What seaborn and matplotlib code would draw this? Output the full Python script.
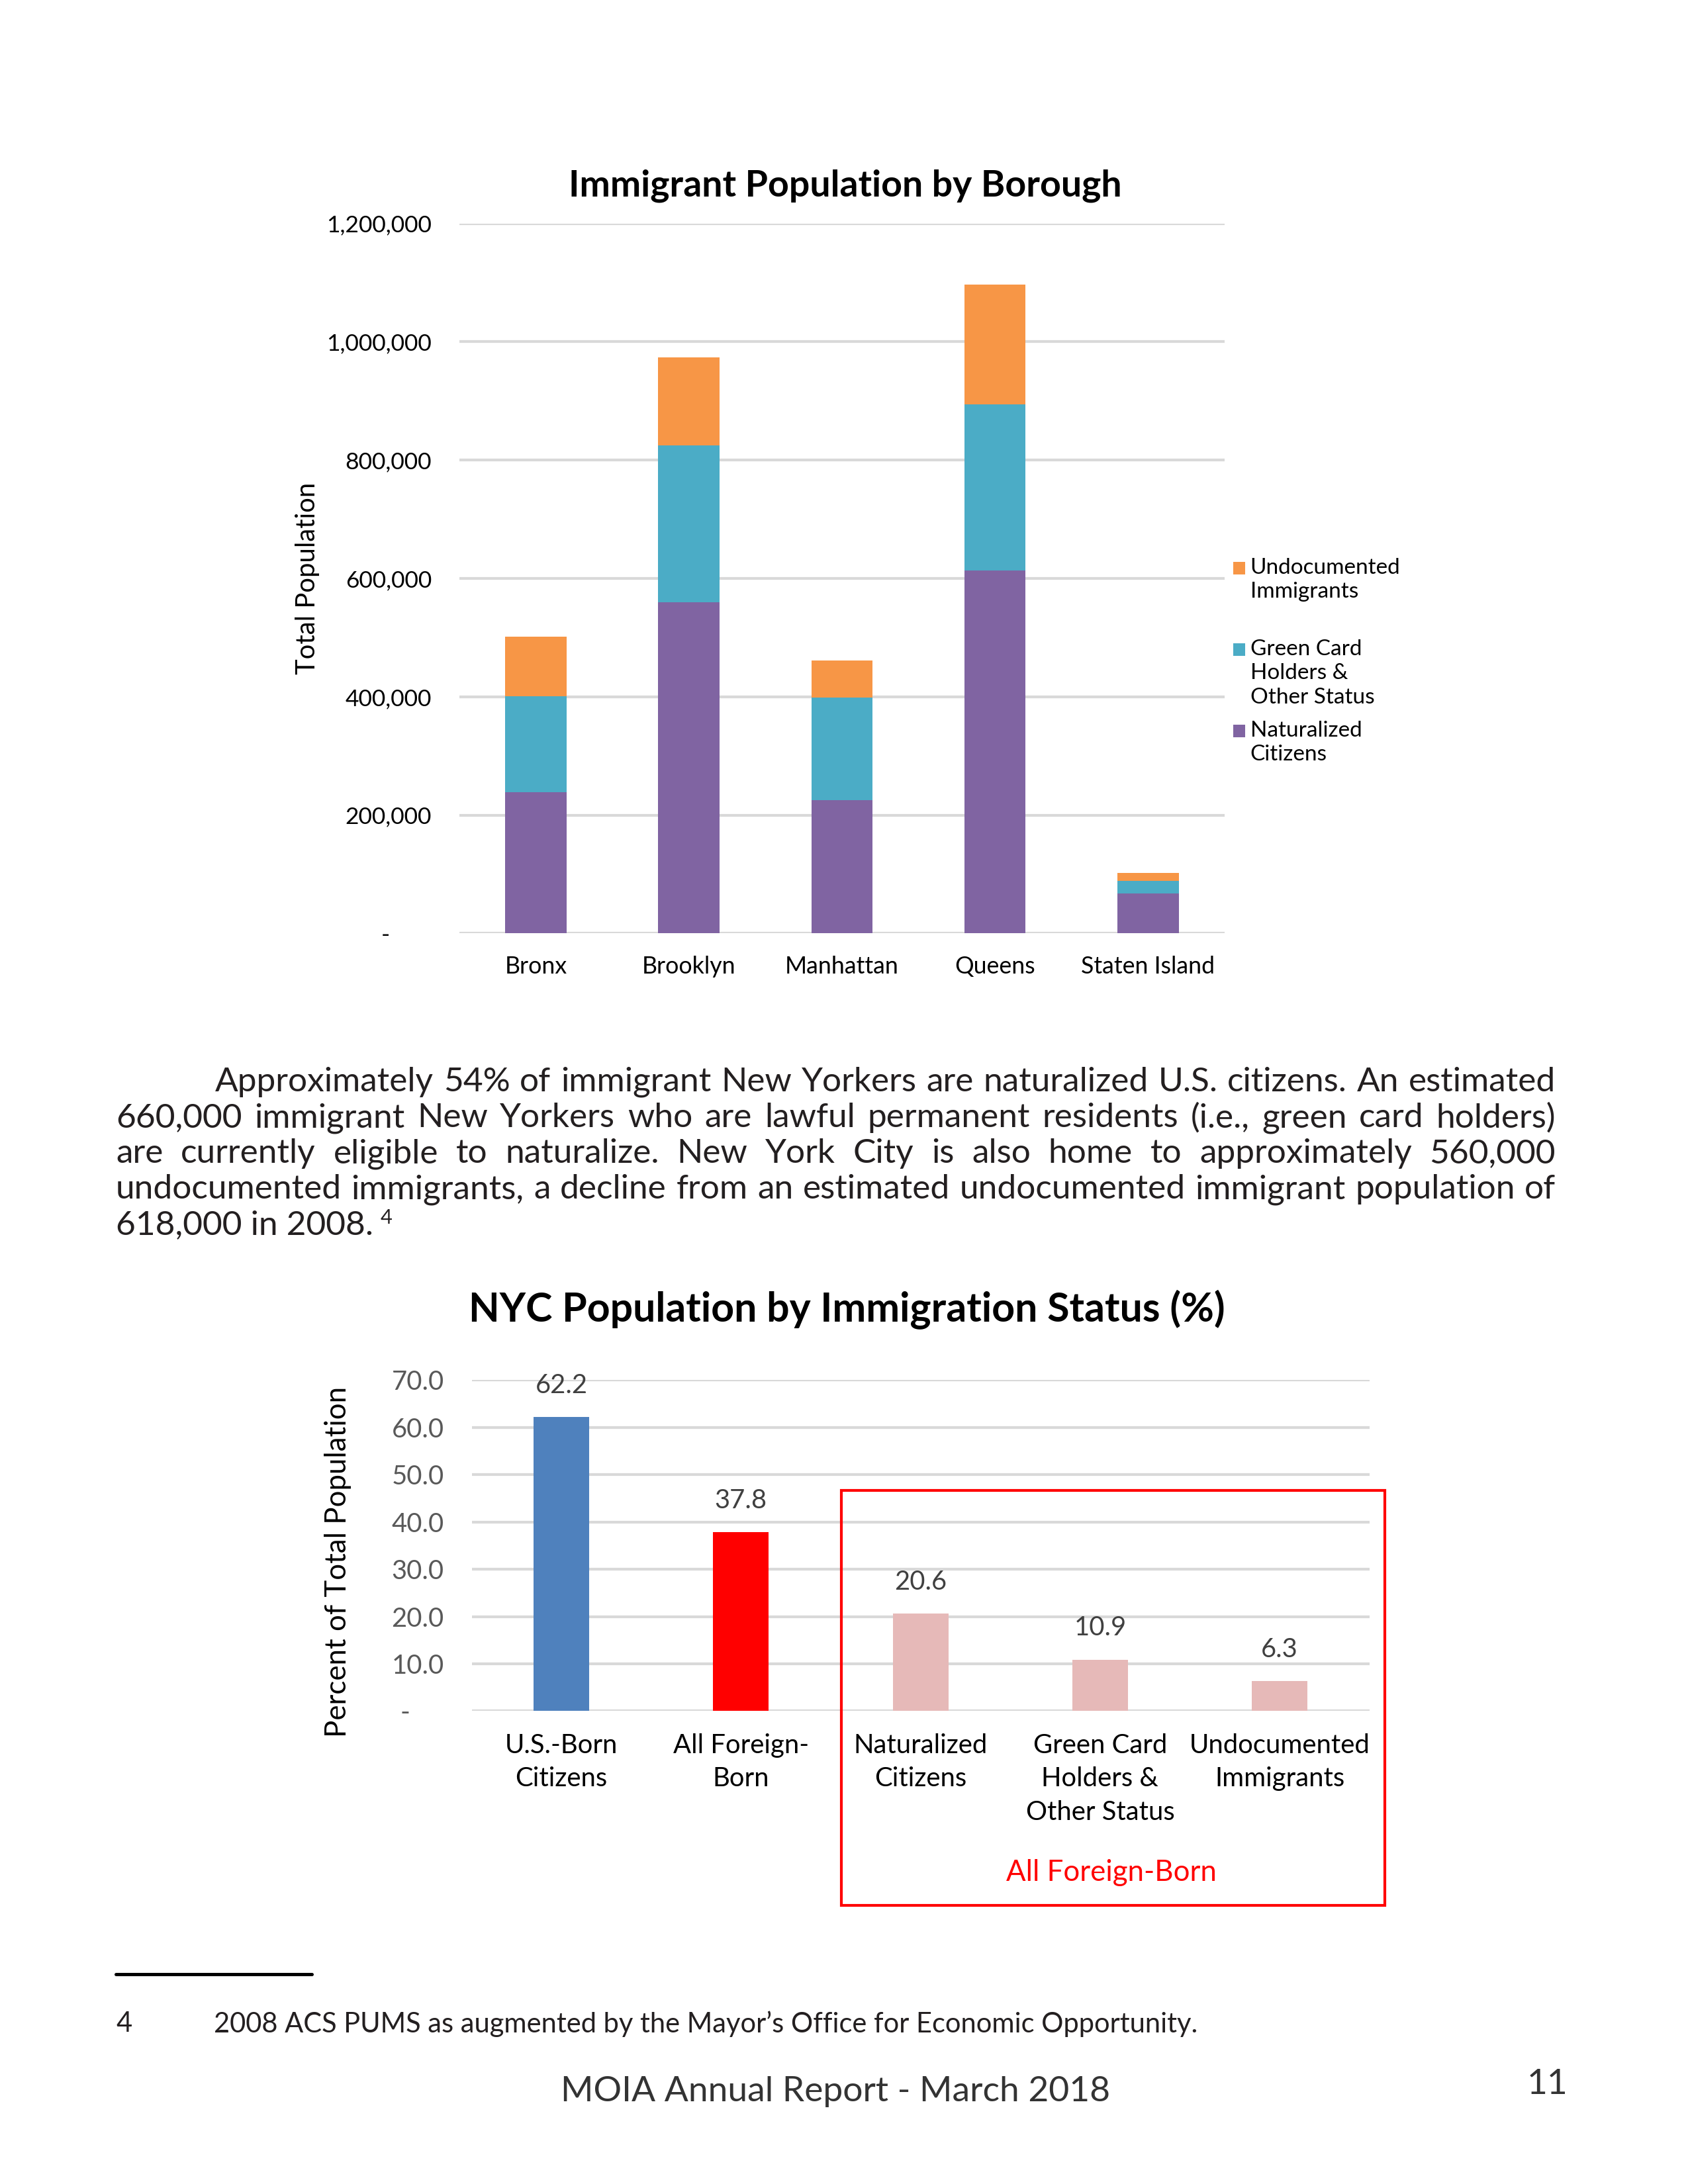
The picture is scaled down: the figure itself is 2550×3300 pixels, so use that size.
import matplotlib
matplotlib.use("Agg")
import matplotlib.pyplot as plt
import seaborn as sns
from matplotlib.patches import Rectangle
from matplotlib.lines import Line2D

# ---------------- data ----------------
boroughs = ["Bronx", "Brooklyn", "Manhattan", "Queens", "Staten Island"]
naturalized = [239000, 560000, 225000, 613000, 68000]
green_card = [162000, 265000, 174000, 281000, 21000]
undocumented = [100000, 148000, 62000, 202000, 13000]
legend_labels = ["Undocumented\nImmigrants", "Green Card\nHolders &\nOther Status", "Naturalized\nCitizens"]
pop_ticks = [0, 200000, 400000, 600000, 800000, 1000000, 1200000]
pop_tick_labels = ["-       ", "200,000", "400,000", "600,000", "800,000", "1,000,000", "1,200,000"]

status_cats = ["U.S.-Born\nCitizens", "All Foreign-\nBorn", "Naturalized\nCitizens",
               "Green Card\nHolders &\nOther Status", "Undocumented\nImmigrants"]
status_pct = [62.2, 37.8, 20.6, 10.9, 6.3]
pct_ticks = [0, 10, 20, 30, 40, 50, 60, 70]
pct_tick_labels = ["-     ", "10.0", "20.0", "30.0", "40.0", "50.0", "60.0", "70.0"]

paragraph_lines = [
    "Approximately 54% of immigrant New Yorkers are naturalized U.S. citizens. An estimated",
    "660,000 immigrant New Yorkers who are lawful permanent residents (i.e., green card holders)",
    "are currently eligible to naturalize. New York City is also home to approximately 560,000",
    "undocumented immigrants, a decline from an estimated undocumented immigrant population of",
    "618,000 in 2008.",
]
footnote_text = "2008 ACS PUMS as augmented by the Mayor\u2019s Office for Economic Opportunity."
footer_text = "MOIA Annual Report - March 2018"

# ---------------- style ----------------
sns.set_theme(style="white")
plt.rcParams["font.family"] = ["Lato", "DejaVu Sans"]

C_UND = "#F79646"
C_GRN = "#4BACC6"
C_NAT = "#8064A2"
status_colors = ["#4F81BD", "#FF0000", "#E6B9B8", "#E6B9B8", "#E6B9B8"]
GRID = "#D9D9D9"

W, H = 2550, 3300
fig = plt.figure(figsize=(8.5, 11), dpi=300)
fig.patch.set_facecolor("white")

def fx(px):  # reference layout units (1224 wide) -> fig fraction
    return px / 1224.0

def fy(py):
    return 1 - py / 1584.0

# ---------------- chart 1 ----------------
ax1 = fig.add_axes([fx(333), fy(677), fx(888) - fx(333), fy(162) - fy(677)])
tot_green = [n + g for n, g in zip(naturalized, green_card)]
tot_all = [t + u for t, u in zip(tot_green, undocumented)]
sns.barplot(x=boroughs, y=tot_all, color=C_UND, width=0.4, saturation=1,
            errorbar=None, linewidth=0, ax=ax1)
sns.barplot(x=boroughs, y=tot_green, color=C_GRN, width=0.4, saturation=1,
            errorbar=None, linewidth=0, ax=ax1)
sns.barplot(x=boroughs, y=naturalized, color=C_NAT, width=0.4, saturation=1,
            errorbar=None, linewidth=0, ax=ax1)
ax1.set_xlim(-0.5, 4.5)
ax1.set_ylim(0, 1200000)
ax1.set_yticks(pop_ticks)
ax1.set_yticklabels(pop_tick_labels)
ax1.set_axisbelow(True)
ax1.grid(axis="y", color=GRID, linewidth=1.0)
for s in ax1.spines.values():
    s.set_visible(False)
ax1.tick_params(axis="y", length=0, pad=10, labelsize=8.5, labelcolor="#000000")
ax1.tick_params(axis="x", length=0, pad=8, labelsize=8.6, labelcolor="#000000")
ax1.set_xlabel("")
ax1.set_ylabel("Total Population", fontsize=9.6, color="#000000")
ax1.yaxis.set_label_coords(-0.182, 0.5)
fig.text(fx(613), fy(135), "Immigrant Population by Borough", ha="center", va="center",
         fontsize=13.3, fontweight="bold", color="#000000")

# legend (manual, Excel-like)
leg_y = [412, 471, 530]
leg_cols = [C_UND, C_GRN, C_NAT]
for lab, yy, col in zip(legend_labels, leg_y, leg_cols):
    fig.patches.append(Rectangle((fx(894), fy(yy + 4.5)), fx(9), fy(yy - 4.5) - fy(yy + 4.5),
                                 transform=fig.transFigure, facecolor=col, edgecolor="none"))
    fig.text(fx(906.5), fy(yy - 7.5), lab, ha="left", va="top", fontsize=8.0,
             linespacing=1.28, color="#000000")

# ---------------- chart 2 ----------------
ax2 = fig.add_axes([fx(342), fy(1241), fx(993) - fx(342), fy(1001) - fy(1241)])
sns.barplot(x=status_cats, y=status_pct, hue=status_cats, palette=status_colors,
            width=0.31, saturation=1, errorbar=None, linewidth=0, legend=False, ax=ax2)
ax2.set_xlim(-0.5, 4.5)
ax2.set_ylim(0, 70)
ax2.set_yticks(pct_ticks)
ax2.set_yticklabels(pct_tick_labels)
ax2.set_axisbelow(True)
ax2.grid(axis="y", color=GRID, linewidth=1.0)
for s in ax2.spines.values():
    s.set_visible(False)
ax2.tick_params(axis="y", length=0, pad=10, labelsize=9.6, labelcolor="#595959")
ax2.tick_params(axis="x", length=0, pad=8, labelsize=9.6, labelcolor="#000000")
for lab in ax2.get_xticklabels():
    lab.set_linespacing(1.45)
ax2.set_xlabel("")
ax2.set_ylabel("Percent of Total Population", fontsize=10.5, color="#000000")
ax2.yaxis.set_label_coords(-0.134, 0.45)
for cont in ax2.containers:
    ax2.bar_label(cont, fmt="%.1f", padding=7, fontsize=9.6, color="#404040")
fig.text(fx(614), fy(950), "NYC Population by Immigration Status (%)", ha="center", va="center",
         fontsize=14.6, fontweight="bold", color="#000000")

# red box around foreign-born breakdown
fig.patches.append(Rectangle((fx(610), fy(1382)), fx(1004) - fx(610), fy(1081) - fy(1382),
                             transform=fig.transFigure, facecolor="none",
                             edgecolor="#FF0000", linewidth=1.0))
fig.text(fx(806), fy(1358), "All Foreign-Born", ha="center", va="center", fontsize=10.5,
         color="#FF0000")

# ---------------- paragraph (justified) ----------------
renderer = fig.canvas.get_renderer()
TXT = "#231F20"
x_left, x_right, x_indent = fx(84), fx(1128), fx(156)
line_y = [786, 812, 838, 864, 890]

def width_of(s, fs, **kw):
    t = fig.text(0, 0, s, fontsize=fs, **kw)
    w = t.get_window_extent(renderer).width / W
    t.remove()
    return w

fs0 = 12.0
ratios = []
for i, ln in enumerate(paragraph_lines[:-1]):
    x0 = x_indent if i == 0 else x_left
    ratios.append((x_right - x0) / width_of(ln, fs0))
PFS = min(12.6, fs0 * min(ratios) * 0.995)

for i, ln in enumerate(paragraph_lines):
    x0 = x_indent if i == 0 else x_left
    yb = fy(line_y[i] + 5.5)
    if i == len(paragraph_lines) - 1:
        t = fig.text(x0, yb, ln, fontsize=PFS, va="baseline", ha="left", color=TXT)
        wl = t.get_window_extent(renderer).width / W
        fig.text(x0 + wl + fx(5), yb + 0.005, "4", fontsize=PFS * 0.6, va="baseline",
                 ha="left", color=TXT)
        continue
    words = ln.split(" ")
    widths = [width_of(w, PFS) for w in words]
    gap = (x_right - x0 - sum(widths)) / (len(words) - 1)
    x = x0
    for w, wd in zip(words, widths):
        fig.text(x, yb, w, fontsize=PFS, va="baseline", ha="left", color=TXT)
        x += wd + gap

# ---------------- footnote & footer ----------------
fig.add_artist(Line2D([fx(84), fx(226)], [fy(1432), fy(1432)], transform=fig.transFigure,
                      color="#000000", linewidth=1.2))
fig.text(fx(84), fy(1468), "4", fontsize=10.0, va="center", ha="left", color=TXT)
fig.text(fx(155), fy(1468), footnote_text, fontsize=10.0, va="center", ha="left", color=TXT)
fig.text(fx(606), fy(1517), footer_text, fontsize=12.8, va="center", ha="center",
         color="#333333")
fig.text(fx(1137), fy(1512), "11", fontsize=12.8, va="center", ha="right",
         color="#333333")

fig.savefig("out.png", dpi=300, facecolor="white")
